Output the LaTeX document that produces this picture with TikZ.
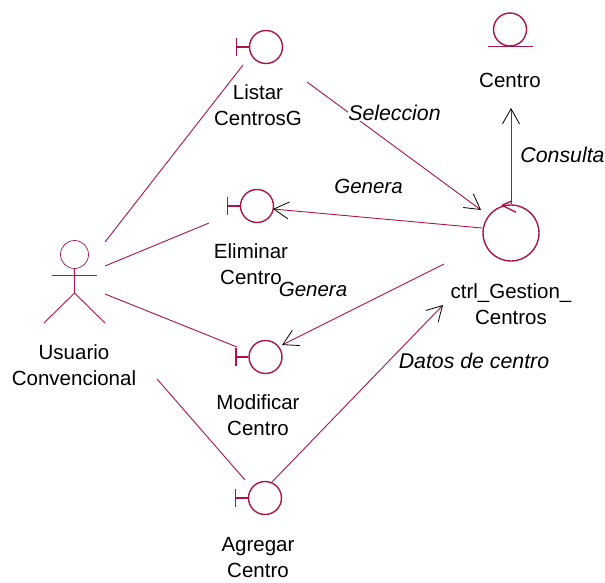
\documentclass[tikz,border=0pt]{standalone}
\usepackage{fontspec}
\setmainfont{Liberation Sans}
\usepackage{xcolor}
\definecolor{rosered}{RGB}{170,20,70}
\usetikzlibrary{arrows.meta}
\tikzset{
  link/.style={draw=rosered, line width=0.9pt},
  msg/.style={link, -{Straight Barb[color=black, line width=0.8pt, length=15pt, width=17pt]}},
  sym/.style={draw=rosered, line width=1.4pt},
  symcircle/.style={sym, circle, inner sep=0pt, minimum size=33pt},
  txt/.style={font=\fontsize{20.5}{26}\selectfont, align=center, inner sep=0pt, text=black},
  msgtxt/.style={font=\fontsize{21.3}{26}\selectfont\itshape, inner sep=0pt, text=black, fill=white},
  gentxt/.style={msgtxt, font=\fontsize{20.5}{26}\selectfont\itshape}
}
\begin{document}
\begin{tikzpicture}[x=1pt, y=-1pt]
\useasboundingbox (0,0) rectangle (605,583);
% labels of the objects
\node[txt] (t_usuario) at (74,365.5) {Usuario\\Convencional};
\node[txt] (t_listar) at (258,105.5) {Listar\\CentrosG};
\node[txt] (t_eliminar) at (251,264) {Eliminar\\Centro};
\node[txt] (t_modificar) at (258,415.5) {Modificar\\Centro};
\node[txt] (t_agregar) at (258,558) {Agregar\\Centro};
\node[txt] (t_centro) at (510,80) {Centro};
\node[txt] (t_ctrl) at (511,304) {ctrl\_Gestion\_\\Centros};
% interfaces
\node[symcircle] (listar) at (266,47) {};
\node[symcircle] (eliminar) at (257,206) {};
\node[symcircle] (modificar) at (265.5,357) {};
\node[symcircle] (agregar) at (265,498) {};
\foreach \n in {listar,eliminar,modificar,agregar}{
\draw[sym] (\n.west) --++ (-12.5,0);
\draw[sym] ([shift={(-12.5,-9)}]\n.west) --++ (0,18);
}
% entity and control
\node[symcircle] (centro) at (510,29.5) {};
\draw[sym] ([xshift=-22pt]centro.south) --++ (45,0);
\node[symcircle, minimum size=56pt] (ctrl) at (511,233) {};
\draw[sym] (ctrl.north) ++ (-9,1) --++ (9,-4);
\draw[sym] (ctrl.north) ++ (-9,1) --++ (14,7);
% actor
\node[draw=rosered, line width=0.7pt, circle, inner sep=0pt, minimum size=28pt] (usuario) at (74.5,254.5) {};
\coordinate (hip) at (74.5,293);
\draw[link] (usuario.south) -- (hip);
\draw[link] ([shift={(-22.5,7)}]usuario.south) --++ (45,0);
\draw[link] (hip) --++ (-30.5,30);
\draw[link] (hip) --++ (30.5,30);
% end points of the connectors
\coordinate (u1) at (105,242);
\coordinate (u2) at (105,266);
\coordinate (u3) at (105,294);
\coordinate (u4) at (157,379);
\coordinate (l1) at (243,65);
\coordinate (l2) at (307,82);
\coordinate (e1) at (209,223);
\coordinate (e2) at (273,209);
\coordinate (m1) at (237,347);
\coordinate (m2) at (282,345);
\coordinate (a1) at (245,480);
\coordinate (a2) at (272,482);
\coordinate (c1) at (481,210);
\coordinate (c2) at (482,228);
\coordinate (c3) at (444,264);
\coordinate (c4) at (443,305);
\coordinate (o1) at (511,108);
\draw[link] (u1) -- (l1);
\draw[link] (u2) -- (e1);
\draw[link] (u3) -- (m1);
\draw[link] (u4) -- (a1);
\draw[msg] (l2) -- (c1);
\draw[msg] (c2) -- (e2);
\draw[msg] (c3) -- (m2);
\draw[msg] (a2) -- (c4);
\draw[msg] (ctrl.north) -- (o1);
% messages
\node[gentxt] (g1) at (368.5,186) {Genera};
\node[gentxt] (g2) at (313,289) {Genera};
\node[msgtxt] (sel) at (394.5,113) {Seleccion};
\node[msgtxt, fill=none] (con) at (562.5,155) {Consulta};
\node[msgtxt, fill=none] (dat) at (474,361) {Datos de centro};
\end{tikzpicture}
\end{document}
